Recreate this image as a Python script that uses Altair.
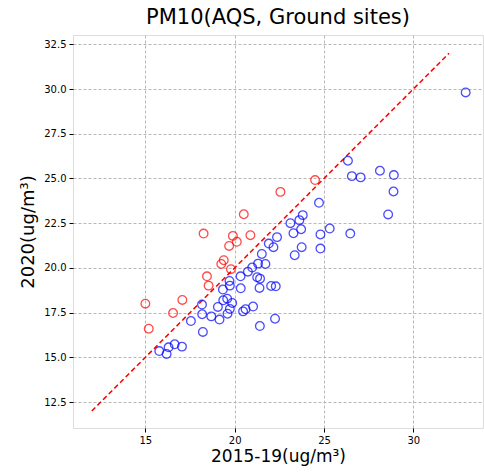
import altair as alt
import pandas as pd

red_x = [15.0, 15.19, 16.55, 17.07, 18.26, 18.45, 18.54, 19.25, 19.39, 19.69, 19.90, 20.12, 19.79, 20.51, 20.88, 22.56, 24.50]
red_y = [18.0, 16.6, 17.48, 18.21, 21.92, 19.53, 19.01, 20.22, 20.43, 21.23, 21.79, 21.46, 19.93, 23.0, 21.83, 24.25, 24.91]

blue_x = [15.78, 16.19, 16.30, 16.64, 17.05, 17.55, 18.17, 18.18, 18.22, 18.69,
          19.06, 19.15, 19.34, 19.36, 19.58, 19.60, 19.71, 19.73, 19.73, 19.86,
          20.33, 20.34, 20.47, 20.61, 20.74, 20.98, 21.03, 21.26, 21.31, 21.42,
          21.39, 21.41, 21.52, 21.72, 21.91, 22.04, 22.17, 22.30, 22.26, 22.37,
          23.12, 23.29, 23.36, 23.62, 23.72, 23.75, 23.81, 24.72, 24.80, 24.80,
          25.32, 26.34, 26.47, 26.56, 27.05, 28.13, 28.59, 28.89, 28.91, 32.93]
blue_y = [15.35, 15.19, 15.56, 15.73, 15.60, 17.03, 17.95, 17.41, 16.42, 17.29,
          17.82, 17.11, 18.79, 18.19, 18.28, 17.44, 19.27, 19.01, 17.71, 18.04,
          19.53, 18.86, 17.57, 17.69, 19.79, 20.02, 17.84, 19.48, 20.24, 19.40,
          18.88, 16.75, 20.78, 20.22, 21.36, 18.99, 21.16, 18.97, 17.16, 21.72,
          22.50, 21.94, 20.71, 22.67, 22.16, 21.16, 22.95, 23.64, 21.87, 21.08,
          22.20, 25.99, 21.92, 25.13, 25.06, 25.43, 22.99, 24.27, 25.19, 29.81]

line_x = [12, 32]
line_y = [12, 32]

x_ticks = [15, 20, 25, 30]
y_ticks = [12.5, 15.0, 17.5, 20.0, 22.5, 25.0, 27.5, 30.0, 32.5]

pts = pd.DataFrame({
    "x": red_x + blue_x,
    "y": red_y + blue_y,
    "g": ["red"] * len(red_x) + ["blue"] * len(blue_x),
})
ln = pd.DataFrame({"x": line_x, "y": line_y})

FONT = "DejaVu Sans"
xs = alt.Scale(domain=[10.95, 33.9], nice=False, zero=False)
ys = alt.Scale(domain=[11.05, 33.02], nice=False, zero=False)

xax = alt.Axis(values=x_ticks, title="2015-19(ug/m³)", titleFontSize=17, titleFont=FONT,
               titleFontWeight="normal", titleColor="#000", labelFont=FONT, labelFontSize=10,
               labelColor="#000", tickColor="#000", tickSize=4, domain=False,
               grid=True, gridDash=[3, 2], gridColor="#b8b8b8", labelPadding=3, titlePadding=3)
yax = alt.Axis(values=y_ticks, format=".1f", title="2020(ug/m³)", titleFontSize=18, titleFont=FONT,
               titleFontWeight="normal", titleColor="#000", labelFont=FONT, labelFontSize=10,
               labelColor="#000", tickColor="#000", tickSize=4, domain=False,
               grid=True, gridDash=[3, 2], gridColor="#b8b8b8", labelPadding=3, titlePadding=6)

points = alt.Chart(pts).mark_point(shape="circle", filled=False, size=75, strokeWidth=1.3).encode(
    x=alt.X("x:Q", scale=xs, axis=xax),
    y=alt.Y("y:Q", scale=ys, axis=yax),
    color=alt.Color("g:N", scale=alt.Scale(domain=["red", "blue"], range=["#ff0000", "#0000ff"]), legend=None),
)

line = alt.Chart(ln).mark_line(color="#ff0000", strokeDash=[5, 3], strokeWidth=1.5).encode(
    x=alt.X("x:Q", scale=xs),
    y=alt.Y("y:Q", scale=ys),
)

chart = alt.layer(line, points).properties(
    width=410,
    height=393,
    title=alt.TitleParams("PM10(AQS, Ground sites)", fontSize=21, font=FONT, fontWeight="normal",
                          color="#000", anchor="middle", offset=7),
    autosize=alt.AutoSizeParams(type="none"),
    padding={"left": 73, "top": 35, "right": 1, "bottom": 45},
).configure_view(stroke="#444", strokeWidth=1.3).configure(background="white")

chart.save("out.html", embed_options={"renderer": "svg", "actions": False})
